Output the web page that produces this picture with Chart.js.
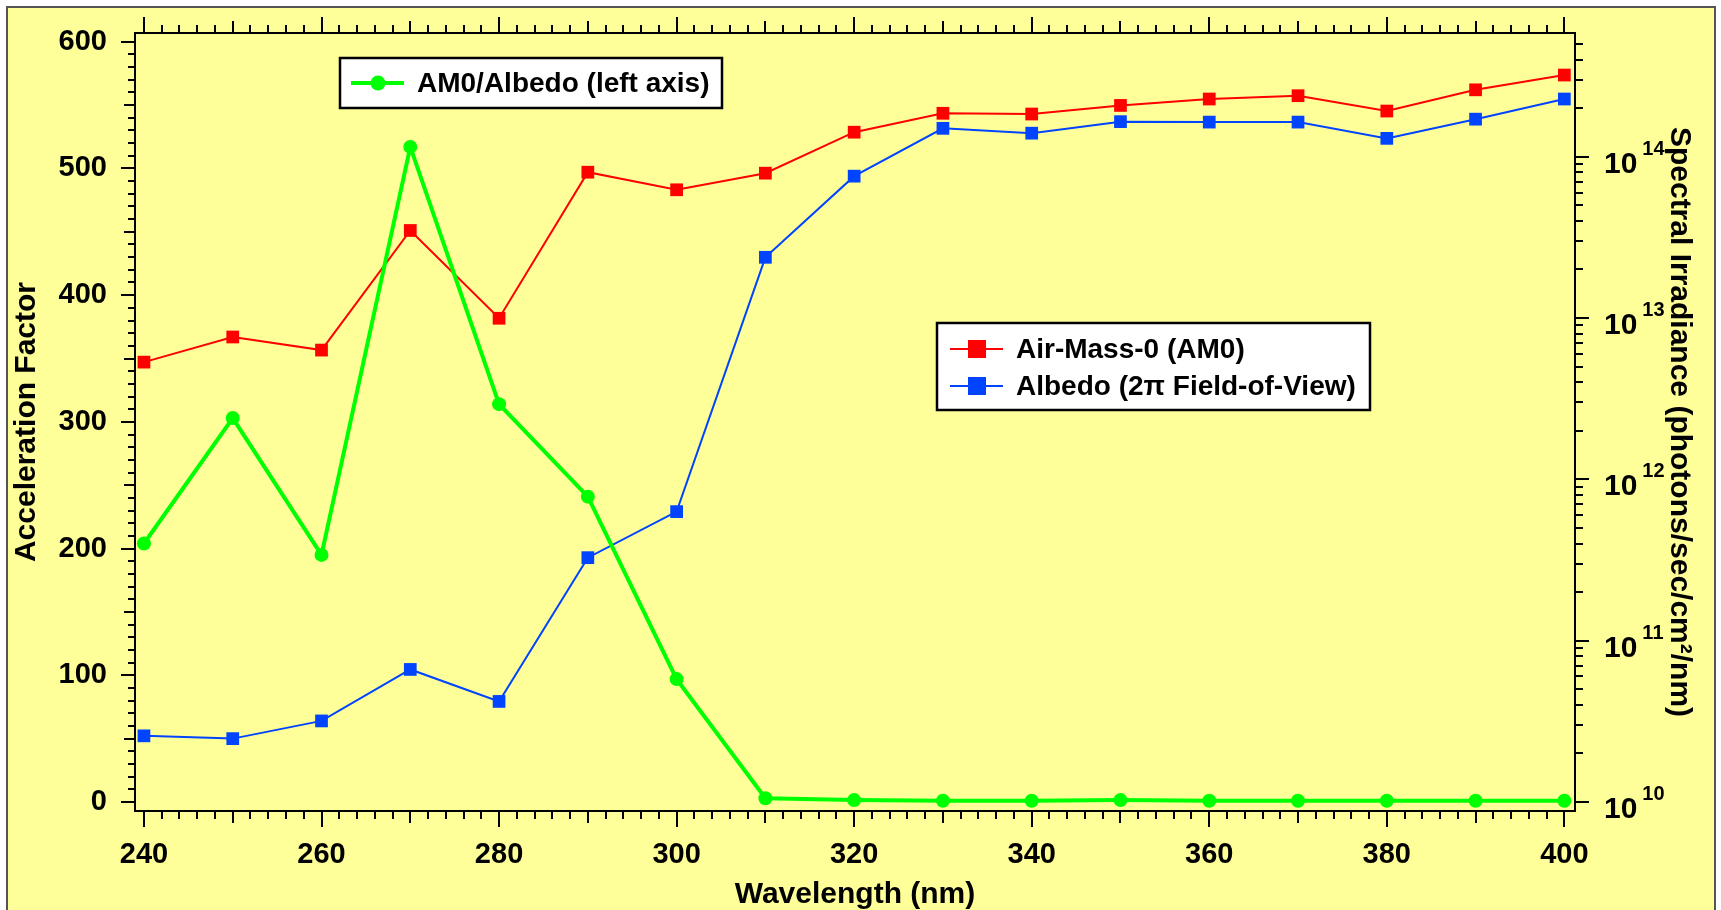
<!DOCTYPE html>
<html lang="en">
<head>
<meta charset="UTF-8">
<title>AM0 / Albedo Acceleration Factor</title>
<script src="https://cdn.jsdelivr.net/npm/chart.js"></script>
<style>
  html, body { margin: 0; padding: 0; background: #fff; }
  #wrap { width: 1721px; height: 910px; }
</style>
</head>
<body>
<div id="wrap"><canvas id="accelChart"></canvas></div>
<script>
// wavelength (nm)
const wavelengths = [240, 250, 260, 270, 280, 290, 300, 310, 320, 330, 340, 350, 360, 370, 380, 390, 400];
// AM0/Albedo ratio (left axis)
const ratio = [204, 303, 195, 517, 314, 241, 97, 3, 1.5, 1, 1, 1.5, 1, 1, 1, 1, 1];
// spectral irradiance, photons/sec/cm2/nm (right axis)
const am0 = [5.33e12, 7.63e12, 6.33e12, 3.49e13, 9.97e12, 8.02e13, 6.24e13, 7.91e13, 1.42e14,
             1.86e14, 1.84e14, 2.08e14, 2.28e14, 2.39e14, 1.92e14, 2.60e14, 3.21e14];
const albedo = [2.57e10, 2.47e10, 3.18e10, 6.63e10, 4.20e10, 3.27e11, 6.31e11, 2.38e13, 7.58e13,
                1.50e14, 1.40e14, 1.65e14, 1.64e14, 1.64e14, 1.30e14, 1.71e14, 2.28e14];

const xTicks = [240, 260, 280, 300, 320, 340, 360, 380, 400];
const yTicks = [0, 100, 200, 300, 400, 500, 600];
const irrTicks = [1e10, 1e11, 1e12, 1e13, 1e14];

const tickFamily = '"Liberation Sans Narrow", "Arial Narrow", "Liberation Sans", Arial, sans-serif';
const textFamily = '"Liberation Sans", Arial, sans-serif';
const yellow = '#ffff99';

function toPoints(ys) {
    return wavelengths.map((w, i) => ({ x: w, y: ys[i] }));
}

// keep the plot box where the fixed axis sizes put it
function noPad(s) {
    s.paddingTop = 0;
    s.paddingBottom = 0;
    s.paddingLeft = 0;
    s.paddingRight = 0;
}

// background, frame, tick marks, log labels and the two legend boxes
const decorPlugin = {
    id: 'decor',
    beforeDraw(chart) {
        const ctx = chart.ctx;
        ctx.save();
        ctx.fillStyle = '#fff';
        ctx.fillRect(0, 0, chart.width, chart.height);
        ctx.fillStyle = yellow;
        ctx.fillRect(7, 7, 1708, 910);
        ctx.strokeStyle = '#555';
        ctx.lineWidth = 2;
        ctx.strokeRect(7, 7, 1708, 910);
        ctx.restore();
    },
    afterDraw(chart) {
        const ctx = chart.ctx;
        const a = chart.chartArea;
        const xs = chart.scales.x, yl = chart.scales.y, yr = chart.scales.y2;
        ctx.save();
        ctx.strokeStyle = '#000';
        ctx.lineWidth = 2;
        ctx.strokeRect(a.left, a.top, a.right - a.left, a.bottom - a.top);

        ctx.beginPath();
        // bottom + top ticks
        for (let v = 240; v <= 400; v += 2) {
            const px = Math.round(xs.getPixelForValue(v));
            const len = v % 20 === 0 ? 16 : (v % 10 === 0 ? 12 : 8);
            ctx.moveTo(px, a.bottom); ctx.lineTo(px, a.bottom + len);
            ctx.moveTo(px, a.top); ctx.lineTo(px, a.top - len);
        }
        // left ticks
        for (let v = 0; v <= 600; v += 10) {
            const py = Math.round(yl.getPixelForValue(v));
            const len = v % 100 === 0 ? 14 : (v % 50 === 0 ? 11 : 7);
            ctx.moveTo(a.left, py); ctx.lineTo(a.left - len, py);
        }
        // right log ticks
        for (let e = 10; e <= 14; e++) {
            for (let d = 1; d <= 9; d++) {
                const v = d * Math.pow(10, e);
                if (v > yr.max) break;
                const py = Math.round(yr.getPixelForValue(v));
                ctx.moveTo(a.right, py); ctx.lineTo(a.right + (d === 1 ? 14 : 8), py);
            }
        }
        ctx.stroke();

        // right axis labels 10^n
        ctx.fillStyle = '#000';
        ctx.textAlign = 'left';
        ctx.textBaseline = 'alphabetic';
        irrTicks.forEach(v => {
            const py = yr.getPixelForValue(v);
            const exp = Math.round(Math.log10(v));
            ctx.font = 'bold 30px ' + tickFamily;
            ctx.fillText('10', a.right + 29, py + 16);
            const w = ctx.measureText('10').width;
            ctx.font = 'bold 20px ' + tickFamily;
            ctx.fillText(String(exp), a.right + 29 + w + 5, py - 2);
        });

        // legends
        const ds = chart.data.datasets;
        function box(x, y, w, h) {
            ctx.fillStyle = '#fff';
            ctx.fillRect(x, y, w, h);
            ctx.strokeStyle = '#000';
            ctx.lineWidth = 2.5;
            ctx.strokeRect(x, y, w, h);
        }
        function entry(d, x, y) {
            ctx.strokeStyle = d.borderColor;
            ctx.lineWidth = d.borderWidth;
            ctx.beginPath();
            ctx.moveTo(x, y); ctx.lineTo(x + 53, y);
            ctx.stroke();
            ctx.fillStyle = d.pointBackgroundColor;
            if (d.pointStyle === 'circle') {
                ctx.beginPath();
                ctx.arc(x + 27, y, 7.5, 0, Math.PI * 2);
                ctx.fill();
            } else {
                ctx.fillRect(x + 27 - 9, y - 9, 18, 18);
            }
            ctx.fillStyle = '#000';
            ctx.font = 'bold 28px ' + textFamily;
            ctx.textBaseline = 'middle';
            ctx.fillText(d.label, x + 66, y + 1);
        }
        box(340, 58, 382, 50);
        entry(ds[0], 351, 83);
        box(937, 323, 433, 87);
        entry(ds[1], 950, 349);
        entry(ds[2], 950, 386);
        ctx.restore();
    }
};

var ctx = document.getElementById('accelChart').getContext('2d');
var accelChart = new Chart(ctx, {
    type: 'line',
    data: {
        datasets: [{
            label: 'AM0/Albedo (left axis)',
            data: toPoints(ratio),
            yAxisID: 'y',
            borderColor: '#00ff00',
            borderWidth: 4,
            pointStyle: 'circle',
            pointRadius: 7,
            pointBorderWidth: 0,
            pointBackgroundColor: '#00ff00'
        }, {
            label: 'Air-Mass-0 (AM0)',
            data: toPoints(am0),
            yAxisID: 'y2',
            borderColor: '#ff0000',
            borderWidth: 2,
            pointStyle: 'rect',
            pointRadius: 9,
            pointBorderWidth: 0,
            pointBackgroundColor: '#ff0000'
        }, {
            label: 'Albedo (2\u03c0 Field-of-View)',
            data: toPoints(albedo),
            yAxisID: 'y2',
            borderColor: '#0044ff',
            borderWidth: 2,
            pointStyle: 'rect',
            pointRadius: 9,
            pointBorderWidth: 0,
            pointBackgroundColor: '#0044ff'
        }]
    },
    options: {
        responsive: true,
        maintainAspectRatio: false,
        animation: false,
        layout: { padding: { top: 33, left: 0, right: 0, bottom: 0 } },
        plugins: { legend: { display: false }, tooltip: { enabled: false } },
        elements: { line: { tension: 0 } },
        scales: {
            x: {
                type: 'linear',
                min: 238.99,
                max: 401.2,
                afterFit: s => { s.height = 99; noPad(s); },
                afterBuildTicks: s => { s.ticks = xTicks.map(v => ({ value: v })); },
                grid: { display: false, drawTicks: false },
                border: { display: false },
                ticks: {
                    padding: 27,
                    maxRotation: 0,
                    autoSkip: false,
                    color: '#000',
                    font: { family: tickFamily, size: 29, weight: 'bold' }
                },
                title: {
                    display: true,
                    text: 'Wavelength (nm)',
                    color: '#000',
                    padding: { top: 0, bottom: 0 },
                    font: { family: textFamily, size: 30, weight: 'bold', lineHeight: 1 }
                }
            },
            y: {
                type: 'linear',
                position: 'left',
                min: -7.1,
                max: 606.9,
                afterFit: s => { s.width = 135; noPad(s); },
                afterBuildTicks: s => { s.ticks = yTicks.map(v => ({ value: v })); },
                grid: { display: false, drawTicks: false },
                border: { display: false },
                ticks: {
                    padding: 28,
                    autoSkip: false,
                    color: '#000',
                    font: { family: tickFamily, size: 29, weight: 'bold' }
                },
                title: {
                    display: true,
                    text: 'Acceleration Factor',
                    color: '#000',
                    padding: { top: 9, bottom: 0 },
                    font: { family: textFamily, size: 30, weight: 'bold' }
                }
            },
            y2: {
                type: 'logarithmic',
                position: 'right',
                min: 8.79e9,
                max: 5.85e14,
                afterFit: s => { s.width = 146; noPad(s); },
                afterBuildTicks: s => { s.ticks = irrTicks.map(v => ({ value: v })); },
                grid: { display: false, drawTicks: false },
                border: { display: false },
                ticks: { display: false },
                title: {
                    display: true,
                    text: 'Spectral Irradiance (photons/sec/cm\u00b2/nm)',
                    color: '#000',
                    padding: { top: 24, bottom: 0 },
                    font: { family: textFamily, size: 30, weight: 'bold' }
                }
            }
        }
    },
    plugins: [decorPlugin]
});
</script>
</body>
</html>
